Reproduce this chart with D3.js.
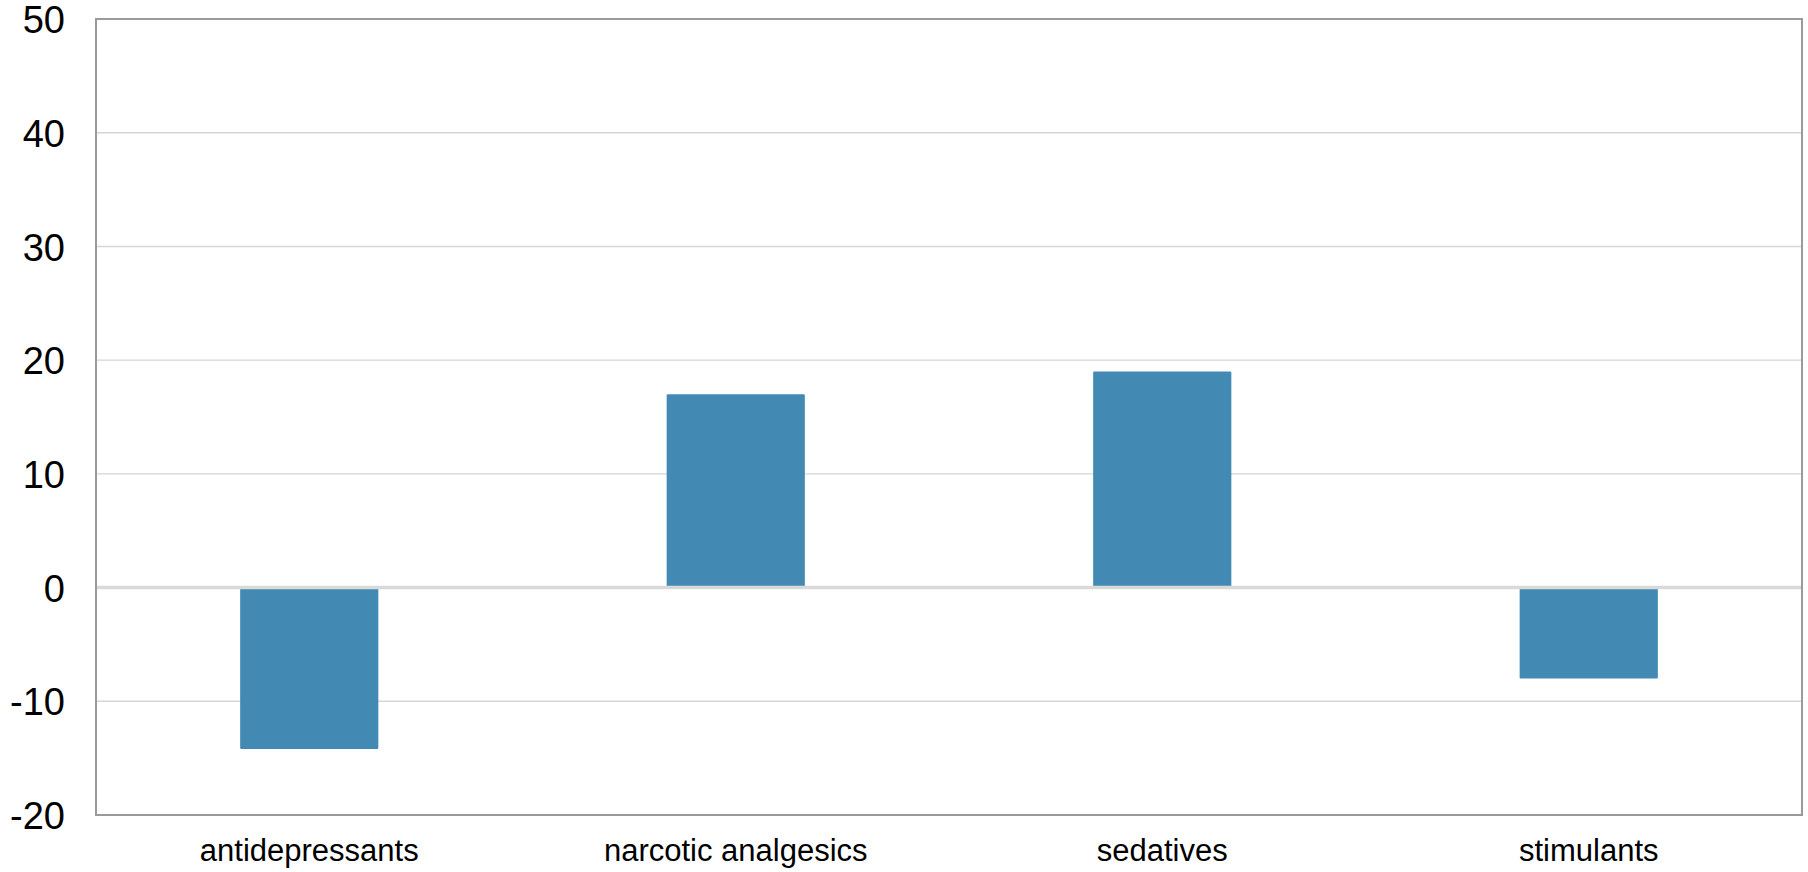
<!DOCTYPE html>
<html>
<head>
<meta charset="utf-8">
<script src="https://cdn.jsdelivr.net/npm/d3@7"></script>
<style>
  html, body { margin: 0; padding: 0; background: #fff; }
  svg { display: block; }
  text { font-family: "Liberation Sans", Arial, sans-serif; fill: #000; }
</style>
</head>
<body>
<svg id="chart" width="1808" height="872"></svg>
<script>
const categories = ["antidepressants", "narcotic analgesics", "sedatives", "stimulants"];
const values = [-14.2, 17, 19, -8];
const yTicks = [-20, -10, 0, 10, 20, 30, 40, 50];

const W = 1808, H = 872;
const margin = { top: 19, right: 6, bottom: 57, left: 96 };
const svg = d3.select("#chart");

const x = d3.scaleBand()
  .domain(categories)
  .range([margin.left, W - margin.right])
  .paddingInner(0.676)
  .paddingOuter(0.338);

const y = d3.scaleLinear()
  .domain([-20, 50])
  .range([H - margin.bottom, margin.top]);

// gridlines
svg.append("g")
  .selectAll("line")
  .data(yTicks.filter(t => t !== 0 && t !== -20 && t !== 50))
  .join("line")
  .attr("x1", margin.left).attr("x2", W - margin.right)
  .attr("y1", d => y(d)).attr("y2", d => y(d))
  .attr("stroke", "#d6d6d6").attr("stroke-width", 1.4);

// bars
svg.append("g")
  .selectAll("rect")
  .data(values)
  .join("rect")
  .attr("x", (d, i) => x(categories[i]))
  .attr("width", x.bandwidth())
  .attr("y", d => y(Math.max(0, d)))
  .attr("height", d => Math.abs(y(d) - y(0)))
  .attr("rx", 1.2)
  .attr("fill", "#428ab4");

// zero line
svg.append("line")
  .attr("x1", margin.left).attr("x2", W - margin.right)
  .attr("y1", y(0)).attr("y2", y(0))
  .attr("stroke", "#d9d9d9").attr("stroke-width", 3.5);

// frame
svg.append("rect")
  .attr("x", margin.left).attr("y", margin.top)
  .attr("width", W - margin.right - margin.left)
  .attr("height", H - margin.bottom - margin.top)
  .attr("fill", "none")
  .attr("stroke", "#9a9a9a").attr("stroke-width", 2);

// y axis labels
const yAxis = d3.axisLeft(y).tickValues(yTicks).tickFormat(d => String(d)).tickSize(0).tickPadding(31);
const gy = svg.append("g").attr("transform", `translate(${margin.left},0)`).call(yAxis);
gy.select(".domain").remove();
gy.selectAll("text")
  .attr("font-size", 38)
  .attr("font-family", "Liberation Sans, Arial, sans-serif")
  .attr("fill", "#000")
  .attr("dy", "0.36em");

// x axis labels
const xAxis = d3.axisBottom(x).tickSize(0).tickPadding(0);
const gx = svg.append("g").attr("transform", `translate(0,${H - margin.bottom})`).call(xAxis);
gx.select(".domain").remove();
gx.selectAll("text")
  .attr("font-size", 31)
  .attr("font-family", "Liberation Sans, Arial, sans-serif")
  .attr("fill", "#000")
  .attr("dy", null)
  .attr("y", 46);
</script>
</body>
</html>
